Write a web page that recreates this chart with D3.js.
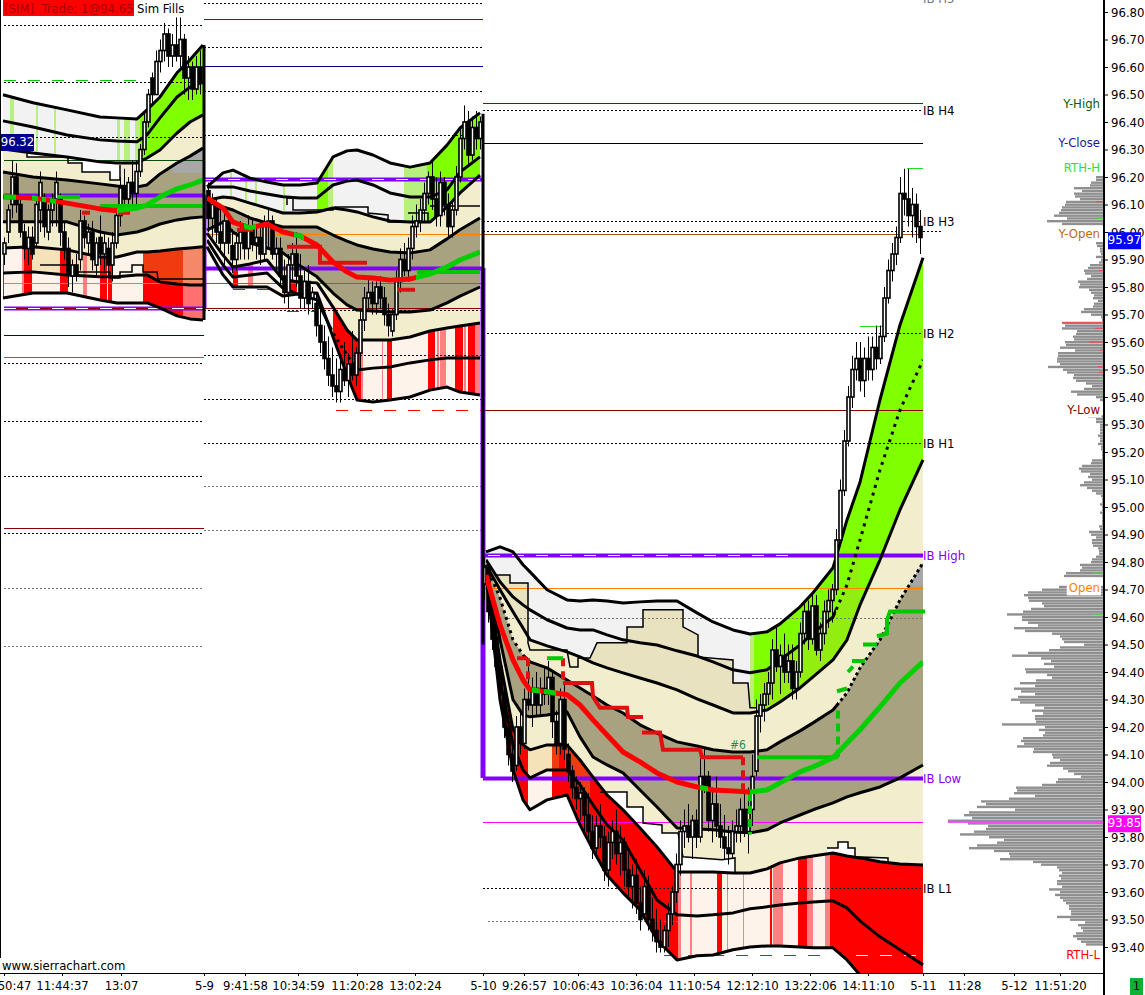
<!DOCTYPE html>
<html><head><meta charset="utf-8">
<script src="https://cdnjs.cloudflare.com/ajax/libs/d3/7.8.5/d3.min.js"></script>
<style>html,body{margin:0;padding:0;background:#fff;overflow:hidden}text{font-family:"DejaVu Sans Condensed","DejaVu Sans",sans-serif}</style>
</head><body><svg id="c" width="1145" height="995"></svg>
<script>
// ---------- axis labels ----------
const priceTicks=[96.8,96.7,96.6,96.5,96.4,96.3,96.2,96.1,96.0,95.9,95.8,95.7,95.6,95.5,95.4,95.3,95.2,95.1,95.0,94.9,94.8,94.7,94.6,94.5,94.4,94.3,94.2,94.1,94.0,93.9,93.8,93.7,93.6,93.5,93.4];
const timeBars=[1,15.5,30.25,51,61.25,74.5,89.25,103.75,120.75,131,144.5,159,173.5,188,202.5,217,230.75,241,253.5,265];
const timeLabels=["50:47","11:44:37","13:07","5-9","9:41:58","10:34:59","11:20:28","13:02:24","5-10","9:26:57","10:06:43","10:36:04","11:10:54","12:12:10","13:22:06","14:11:10","5-11","11:28","5-12","11:51:20"];
// ---------- session 1 bands ----------
const s1Bars=[0.75,8.25,16.75,25,29.25,34.25,36.75,40,44.25,47.5,50.75];
const s1C1=[96.499,96.47,96.444,96.418,96.415,96.411,96.444,96.491,96.579,96.626,96.68];
const s1C2=[96.404,96.382,96.353,96.335,96.331,96.328,96.353,96.415,96.491,96.527,96.546];
const s1C3=[96.302,96.287,96.273,96.255,96.251,96.251,96.269,96.298,96.36,96.4,96.426];
const s1C4=[96.218,96.2,96.189,96.175,96.167,96.164,96.171,96.211,96.251,96.276,96.305];
const s1Mid=[96.128,96.124,96.105,96.084,96.077,96.087,96.098,96.128,96.157,96.171,96.189];
const s1C5=[96.037,96.037,96.037,96.0,95.989,96.0,96.011,96.029,96.044,96.051,96.055];
const s1C6=[95.942,95.946,95.935,95.909,95.909,95.927,95.927,95.931,95.938,95.942,95.946];
const s1C7=[95.851,95.855,95.844,95.837,95.837,95.844,95.844,95.818,95.811,95.807,95.807];
const s1C8=[95.76,95.778,95.778,95.753,95.742,95.742,95.742,95.724,95.695,95.684,95.68];
// ---------- session 2 bands ----------
const s2Bars=[51.75,55.75,58.25,62.5,66.75,70.75,75,79.25,83.25,86.75,89.25,93.25,97.5,102.5,107.5,111.75,115,120];
const s2C1=[96.164,96.215,96.225,96.196,96.182,96.171,96.171,96.178,96.273,96.295,96.298,96.28,96.251,96.236,96.251,96.316,96.378,96.433];
const s2C2=[96.164,96.164,96.164,96.149,96.138,96.128,96.124,96.124,96.171,96.185,96.189,96.171,96.142,96.127,96.127,96.153,96.218,96.273];
const s2C3=[96.116,96.127,96.124,96.105,96.087,96.069,96.069,96.073,96.087,96.08,96.073,96.055,96.04,96.036,96.036,96.091,96.142,96.207];
const s2C4=[96.069,96.091,96.08,96.051,96.033,96.018,96.018,96.018,95.989,95.967,95.953,95.938,95.927,95.924,95.935,95.975,96.008,96.051];
const s2Mid=[96.124,96.087,96.036,96.015,96.029,96.0,95.986,95.953,95.891,95.855,95.836,95.833,95.825,95.829,95.847,95.873,95.898,95.927];
const s2C5=[96.007,96.036,96.0,95.96,95.942,95.924,95.877,95.837,95.778,95.735,95.716,95.713,95.709,95.709,95.716,95.742,95.767,95.8];
const s2C6=[95.996,95.916,95.873,95.884,95.898,95.826,95.818,95.815,95.727,95.644,95.607,95.607,95.607,95.618,95.64,95.651,95.658,95.669];
const s2C7=[95.971,95.88,95.836,95.844,95.851,95.796,95.771,95.753,95.633,95.553,95.498,95.505,95.509,95.524,95.535,95.542,95.542,95.542];
const s2C8=[95.946,95.844,95.8,95.8,95.8,95.767,95.775,95.778,95.618,95.48,95.389,95.382,95.389,95.4,95.425,95.436,95.418,95.407];
// ---------- session 3 bands ----------
const s3Bars=[121.5,125,128.25,130.75,132.5,136.75,141.75,145,148.25,151.75,155.75,160,164.25,169.25,174.25,178.25,183.25,187.5,191.75,195,200,203.25,208.25,211.75,215,220,225,230.75];
const s3C1=[94.837,94.855,94.837,94.79,94.764,94.699,94.662,94.658,94.662,94.658,94.651,94.655,94.658,94.658,94.615,94.582,94.553,94.538,94.546,94.575,94.637,94.688,94.779,94.953,95.09,95.39,95.662,95.906];
const s3C2=[94.808,94.728,94.673,94.644,94.626,94.59,94.56,94.553,94.553,94.535,94.517,94.506,94.498,94.477,94.458,94.437,94.408,94.397,94.408,94.444,94.498,94.542,94.6,94.717,94.88,95.135,95.353,95.535];
const s3C3=[94.79,94.699,94.619,94.56,94.517,94.495,94.473,94.455,94.433,94.415,94.397,94.378,94.36,94.335,94.302,94.28,94.251,94.251,94.262,94.291,94.342,94.382,94.444,94.517,94.644,94.808,94.99,95.171];
const s3C4=[94.79,94.67,94.517,94.462,94.437,94.415,94.371,94.342,94.313,94.28,94.251,94.208,94.178,94.146,94.131,94.117,94.109,94.109,94.117,94.146,94.186,94.215,94.262,94.324,94.415,94.517,94.662,94.797];
const s3Mid=[94.753,94.571,94.444,94.371,94.335,94.328,94.317,94.28,94.226,94.171,94.109,94.073,94.033,94.0,93.982,93.971,93.967,93.964,93.971,93.997,94.037,94.055,94.088,94.142,94.19,94.273,94.36,94.437];
const s3C5=[94.779,94.517,94.299,94.244,94.237,94.244,94.255,94.164,94.091,94.062,94.033,93.971,93.909,93.833,93.829,93.826,93.818,93.815,93.826,93.851,93.88,93.899,93.924,93.946,93.961,93.982,94.015,94.062];
const s3C6=[94.771,94.444,94.19,94.135,94.117,94.135,94.135,94.08,94.018,93.953,93.899,93.833,93.764,93.673,93.673,93.673,93.669,93.669,93.684,93.706,93.724,93.731,93.742,93.731,93.724,93.71,93.702,93.698];
const s3C7=[94.764,94.371,94.135,94.044,94.015,94.044,94.044,93.99,93.917,93.844,93.789,93.68,93.571,93.517,93.513,93.517,93.524,93.539,93.546,93.553,93.56,93.564,93.568,93.542,93.495,93.437,93.39,93.335];
const s3C8=[94.753,94.299,94.044,93.935,93.899,93.935,93.953,93.844,93.753,93.662,93.597,93.535,93.426,93.353,93.368,93.371,93.39,93.4,93.404,93.404,93.4,93.397,93.397,93.353,93.298,93.244,93.19,93.135];
// ---------- stepped value-area outlines [bar, price] ----------
const s1StepWhite=[[6.75,96.298],[6.75,96.273],[17,96.273],[17,96.251],[20.5,96.251],[20.5,96.218],[27.5,96.218],[27.5,96.189],[30,96.189],[30,96.244]];
const s1StepLow=[[10,95.88],[17,95.88],[17,95.855],[27.5,95.855],[27.5,95.833],[30,95.833],[30,95.855],[33,95.855],[33,95.88],[35.75,95.88],[35.75,95.855],[39.25,95.855],[39.5,95.829],[50.75,95.829]];
const s2StepA=[[71.75,96.098],[71.75,96.124],[73.25,96.124],[73.25,96.08],[83.25,96.08],[83.75,96.091],[92,96.091],[92,96.069],[97,96.062],[97,96.036],[101.25,96.036]];
const s2StepB=[[102,96.069],[107,96.069],[107,96.036]];
const s2StepC=[[107.5,96.095],[120,96.095]];
const s3StepUp=[[123.75,94.753],[127.5,94.753],[127.5,94.724],[132,94.724],[132,94.506],[132.5,94.48],[141.75,94.48],[142.5,94.418],[144.5,94.418],[144.5,94.451],[147.5,94.451],[149.25,94.506],[156.75,94.506],[156.75,94.564],[160.75,94.564],[160.75,94.626],[170.75,94.626],[170.75,94.564],[174.5,94.535],[174.5,94.455],[183.25,94.444],[183.25,94.36],[187,94.36],[187.5,94.27],[189.25,94.27]];
const s3StepLow=[[150,93.964],[156.75,93.964],[156.75,93.909],[160.75,93.909],[160.75,93.851],[165.5,93.844],[165.5,93.815],[169.5,93.815],[170.75,93.728],[180.5,93.717],[183.75,93.724],[183.75,93.673]];
const s3StepRight=[[206.75,93.76],[209.5,93.76],[209.5,93.782],[212,93.782],[212,93.76],[213.75,93.76],[213.75,93.728],[222,93.724],[222,93.709]];
// ---------- overnight / IB levels [price, fromBar, toBar] ----------
const dottedBlack=[[96.753,1,51],[96.546,1,51],[96.346,1,51],[95.524,1,51],[95.313,1,51],[95.113,1,51],[94.906,1,51],[96.833,51,120.75],[96.673,51,120.75],[96.513,51,120.75],[96.353,51,120.75],[95.717,51,120.75],[95.553,51,120.75],[95.393,51,120.75],[95.233,51,120.75],[96.444,120.75,230.75],[96.04,120.75,230.75],[95.633,120.75,230.75],[95.233,120.75,230.75],[93.615,120.75,230.75],[96.004,120.75,235.5]];
const dottedGrey=[[94.706,1,51],[94.495,1,51],[95.077,51,120.75],[94.917,51,120.75],[94.597,122,230.75],[93.495,122,170]];
const darkGreenLevels=[[96.262,1,51],[96.775,51,120.75],[96.469,120.75,230.75]];
const navyLevels=[[95.626,1,51],[96.604,51,120.75]];
const blackLevels=[[96.324,120.75,230.75]];
const brownLevels=[[95.546,1,51],[95.815,51,120.75],[95.993,120.75,230.75]];
const darkRedLevels=[[94.924,1,51],[95.724,51,120.75],[95.353,120.75,230.75],[95.724,1,51]];
const orangeLevels=[[95.815,1,51],[95.993,51,120.75],[94.706,120.75,230.75]];
const purpleLevels=[[96.135,1,51],[95.724,1,51],[96.193,51,120.75],[95.869,51,120.75],[94.826,120.75,230.75],[94.015,120.75,230.75]];
const whiteDashed=[[95.724,1,51],[96.193,51,120.75],[94.826,122,200],[93.371,208,230.75]];
const magentaLevels=[[93.855,120.75,230.75]];
const redDashed=[[95.793,58.25,69.25],[95.713,71.75,79.25],[95.353,84,120.75],[93.371,166,208]];
const limeLevels=[[96.233,226.75,230.75],[95.66,215,221]];
const limeDashed=[[96.553,1,36]];
// ---------- POC migration [bar, price] ----------
const redSteps=[[[20.5,96.07],[22.5,96.07]],[[29.5,96.07],[32.5,96.07]],[[59.25,96.008],[63.25,96.008]],[[71.75,95.946],[80,95.946],[80,95.888],[91.75,95.888]],[[99.25,95.79],[103.75,95.79]],[[129.25,94.45],[131.75,94.45]],[[140.75,94.36],[148,94.36],[148.25,94.31],[150,94.27],[156.75,94.27],[157,94.236],[160.75,94.236]],[[160.5,94.18],[165,94.18],[165.75,94.117],[175,94.117],[175.5,94.09],[185.75,94.09]]];
const redDash=[[[132,94.45],[132,94.36]],[[140.75,94.45],[140.75,94.36]],[[185.75,94.09],[185.75,93.97]]];
const greenSteps=[[[14.25,96.128],[20,96.128]],[[25,96.095],[50.75,96.095]],[[104.25,95.855],[120,95.855]],[[136.75,94.45],[140.75,94.45]],[[189.25,94.09],[209.5,94.09]],[[209.25,94.33],[211.75,94.34]],[[212,94.40],[213.25,94.42]],[[213,94.44],[216.25,94.44]],[[215.75,94.50],[219.25,94.50]],[[219.25,94.53],[221.75,94.54],[221.75,94.59],[222.5,94.62],[231.25,94.62]]];
const greenDash=[[[209.5,94.26],[209.5,94.09]],[[187.5,93.96],[187.5,93.81]]];
// ---------- shading [fromBar, toBar] ----------
const s1PaleGreen=[[2.5,3.5],[9,9.5],[13.5,14],[29.25,30],[31,32.5],[33.75,35]];
const s2PaleGreen=[[57.5,58],[61.25,61.75],[63.75,64.25],[70.75,71.25],[82,83.25],[101,106.75]];
const s2BrightGreen=[[79.25,82],[106.75,120]];
const s1RedStripes=[[0.75,1],[6,8],[15,17],[25,26.75],[27,28]];
const s1PinkStripes=[[5.5,6],[20.75,21.75],[45.75,46.75],[47.5,48.5]];
const s2RedStripes=[[58.25,59.5],[71.75,74.25],[75.75,77.5],[96.75,98],[107,108.75],[113.75,115.75],[117,118.75]];
const s2PinkStripes=[[62,63.25],[90.25,90.75],[95.5,95.75],[109.25,109.75],[110,111.5],[116,116.5],[118.75,120]];
const s3RedStripes=[[129,131.25],[179.25,180.5],[192.5,193],[199.5,201.75]];
const s3PinkStripes=[[169.5,170.25],[172.5,173],[181.75,182],[185.75,186],[193.25,195.75],[201.75,203.25],[206.25,207.5]];
// ---------- candles [high, low, open, close] ----------
const s1Start=1;
const s1Candles=[[95.98,95.88,95.92,95.96],[96.10,95.96,96.00,96.08],[96.26,96.05,96.10,96.20],[96.25,96.07,96.20,96.10],[96.12,95.98,96.10,96.00],[96.03,95.90,96.00,95.94],[96.02,95.88,95.94,95.98],[96.02,95.90,95.98,95.92],[96.12,95.94,95.96,96.10],[96.22,96.00,96.08,96.18],[96.14,95.98,96.12,96.02],[96.10,95.97,96.00,96.08],[96.14,96.02,96.08,96.12],[96.22,96.02,96.12,96.18],[96.14,95.95,96.12,96.00],[96.04,95.90,96.00,95.94],[95.98,95.80,95.94,95.85],[95.90,95.78,95.84,95.88],[95.92,95.82,95.88,95.85],[96.08,95.86,95.90,96.04],[96.06,95.94,96.04,95.98],[96.03,95.92,95.96,96.00],[96.04,95.86,96.00,95.90],[95.98,95.84,95.88,95.96],[96.06,95.88,95.98,95.92],[96.00,95.86,95.92,95.96],[95.98,95.84,95.94,95.88],[96.00,95.82,95.88,95.96],[96.10,95.94,95.96,96.06],[96.20,96.02,96.06,96.16],[96.23,96.08,96.16,96.12],[96.20,96.08,96.12,96.18],[96.26,96.10,96.18,96.14],[96.26,96.10,96.14,96.22],[96.32,96.20,96.22,96.30],[96.44,96.28,96.30,96.40],[96.52,96.38,96.40,96.50],[96.58,96.46,96.56,96.50],[96.66,96.50,96.50,96.62],[96.70,96.58,96.62,96.66],[96.76,96.62,96.66,96.72],[96.74,96.60,96.72,96.64],[96.72,96.60,96.64,96.68],[96.78,96.62,96.68,96.64],[96.78,96.60,96.64,96.70],[96.72,96.50,96.70,96.56],[96.64,96.48,96.56,96.60],[96.62,96.48,96.60,96.52],[96.64,96.50,96.52,96.60],[96.66,96.50,96.60,96.54]];
const s2Start=52;
const s2Candles=[[96.18,96.00,96.15,96.05],[96.14,95.98,96.05,96.10],[96.12,95.96,96.10,96.00],[96.10,95.92,96.00,95.96],[96.08,95.88,95.96,96.04],[96.05,95.92,96.04,95.96],[96.01,95.85,95.95,95.90],[96.0,95.86,95.90,95.96],[96.04,95.90,95.96,96.0],[96.02,95.90,96.0,95.94],[96.06,95.90,95.94,96.02],[96.05,95.93,96.02,95.96],[96.02,95.90,95.96,95.98],[96.04,95.88,95.98,95.92],[96.06,95.90,95.92,96.02],[96.08,95.94,96.02,96.04],[96.06,95.90,96.04,95.92],[95.98,95.86,95.92,95.94],[95.98,95.80,95.94,95.84],[95.90,95.74,95.84,95.78],[95.92,95.72,95.78,95.88],[95.96,95.82,95.88,95.92],[96.0,95.80,95.92,95.84],[95.92,95.72,95.84,95.76],[95.86,95.72,95.76,95.82],[95.88,95.70,95.82,95.74],[95.80,95.72,95.76,95.78],[95.78,95.62,95.74,95.66],[95.72,95.56,95.66,95.60],[95.66,95.50,95.60,95.54],[95.62,95.44,95.54,95.48],[95.58,95.40,95.48,95.44],[95.54,95.38,95.44,95.42],[95.54,95.38,95.42,95.50],[95.60,95.44,95.50,95.46],[95.56,95.40,95.46,95.52],[95.64,95.46,95.52,95.48],[95.58,95.44,95.48,95.56],[95.72,95.50,95.56,95.68],[95.80,95.64,95.68,95.76],[95.84,95.72,95.76,95.78],[95.82,95.70,95.78,95.74],[95.82,95.70,95.74,95.80],[95.84,95.72,95.80,95.76],[95.80,95.66,95.76,95.70],[95.74,95.62,95.70,95.66],[95.72,95.62,95.64,95.70],[95.86,95.68,95.70,95.82],[95.94,95.78,95.82,95.90],[95.96,95.84,95.90,95.86],[95.98,95.82,95.86,95.94],[96.06,95.90,95.94,96.02],[96.10,95.98,96.02,96.04],[96.12,96.0,96.04,96.08],[96.18,96.04,96.08,96.14],[96.22,96.10,96.14,96.20],[96.26,96.08,96.20,96.12],[96.20,96.02,96.12,96.06],[96.22,96.02,96.06,96.18],[96.20,96.06,96.18,96.10],[96.14,95.98,96.10,96.02],[96.12,95.98,96.02,96.08],[96.24,96.06,96.08,96.20],[96.38,96.18,96.20,96.34],[96.46,96.30,96.34,96.40],[96.44,96.24,96.40,96.28],[96.42,96.26,96.28,96.38],[96.44,96.30,96.38,96.34],[96.42,96.30,96.34,96.40]];
const s3Start=121;
const s3Candles=[[94.82,94.66,94.72,94.78],[94.80,94.58,94.78,94.62],[94.66,94.48,94.62,94.52],[94.56,94.38,94.52,94.42],[94.46,94.28,94.42,94.32],[94.36,94.16,94.32,94.20],[94.24,94.06,94.20,94.10],[94.14,94.00,94.10,94.04],[94.24,94.04,94.06,94.20],[94.26,94.10,94.20,94.14],[94.34,94.12,94.14,94.30],[94.42,94.26,94.30,94.28],[94.38,94.20,94.28,94.34],[94.40,94.24,94.34,94.28],[94.38,94.24,94.28,94.34],[94.42,94.28,94.34,94.32],[94.44,94.28,94.32,94.38],[94.40,94.16,94.38,94.22],[94.26,94.10,94.22,94.14],[94.34,94.10,94.14,94.30],[94.36,94.08,94.30,94.12],[94.14,94.00,94.10,94.04],[94.06,93.94,94.04,93.98],[94.02,93.90,93.98,93.94],[94.00,93.86,93.94,93.96],[93.98,93.82,93.96,93.88],[93.96,93.78,93.88,93.82],[93.88,93.72,93.82,93.76],[93.88,93.72,93.76,93.84],[93.92,93.76,93.84,93.80],[93.84,93.64,93.80,93.68],[93.82,93.62,93.68,93.78],[93.86,93.72,93.78,93.82],[93.90,93.70,93.82,93.74],[93.84,93.66,93.74,93.78],[93.80,93.62,93.78,93.68],[93.74,93.58,93.68,93.62],[93.70,93.54,93.62,93.66],[93.72,93.52,93.66,93.56],[93.62,93.46,93.56,93.50],[93.68,93.50,93.52,93.62],[93.66,93.46,93.62,93.50],[93.58,93.42,93.50,93.46],[93.54,93.38,93.46,93.42],[93.50,93.38,93.42,93.40],[93.48,93.38,93.40,93.46],[93.56,93.40,93.46,93.52],[93.62,93.48,93.52,93.60],[93.74,93.56,93.60,93.70],[93.86,93.66,93.70,93.82],[93.90,93.76,93.82,93.84],[93.92,93.78,93.84,93.80],[93.88,93.72,93.80,93.86],[93.90,93.76,93.86,93.80],[94.10,93.78,93.80,94.02],[94.12,93.96,94.02,93.98],[94.04,93.82,94.02,93.86],[93.98,93.78,93.86,93.92],[94.02,93.80,93.92,93.84],[93.92,93.76,93.84,93.80],[93.88,93.72,93.80,93.76],[93.84,93.70,93.76,93.74],[93.86,93.72,93.74,93.82],[93.90,93.78,93.82,93.84],[93.94,93.78,93.84,93.90],[93.96,93.80,93.90,93.82],[93.98,93.74,93.82,93.90],[94.10,93.84,93.90,94.02],[94.30,94.02,94.04,94.24],[94.32,94.18,94.24,94.28],[94.36,94.22,94.28,94.32],[94.40,94.28,94.32,94.36],[94.52,94.30,94.36,94.48],[94.56,94.40,94.48,94.42],[94.50,94.32,94.42,94.46],[94.54,94.36,94.46,94.40],[94.50,94.36,94.40,94.44],[94.50,94.30,94.44,94.34],[94.44,94.30,94.34,94.40],[94.58,94.38,94.40,94.54],[94.66,94.50,94.54,94.62],[94.66,94.48,94.62,94.52],[94.68,94.50,94.52,94.64],[94.68,94.46,94.64,94.48],[94.58,94.44,94.48,94.54],[94.66,94.50,94.54,94.62],[94.70,94.56,94.62,94.66],[94.72,94.58,94.66,94.70],[94.92,94.68,94.70,94.88],[95.10,94.86,94.88,95.06],[95.28,95.04,95.06,95.24],[95.44,95.22,95.24,95.40],[95.55,95.36,95.40,95.50],[95.60,95.46,95.50,95.54],[95.60,95.42,95.54,95.46],[95.58,95.40,95.46,95.54],[95.62,95.46,95.54,95.50],[95.62,95.46,95.50,95.58],[95.66,95.50,95.58,95.54],[95.66,95.52,95.54,95.62],[95.80,95.60,95.62,95.76],[95.90,95.74,95.76,95.86],[95.96,95.82,95.86,95.92],[96.02,95.88,95.92,95.98],[96.20,95.96,95.98,96.14],[96.23,96.06,96.14,96.12],[96.23,96.02,96.12,96.06],[96.16,95.98,96.06,96.10],[96.14,95.96,96.10,96.02],[96.08,95.92,96.02,95.98]];
// ---------- volume profile (one value per 0.01, from 96.20 downward) ----------
const profileTop=96.20;
const profileVolumes=[7,7,12,13,29,21,29,28,23,37,38,41,42,44,49,36,56,41,0,0,0,0,0,0,7,6,3,3,2,7,2,4,13,15,19,18,12,16,25,23,24,14,12,9,10,5,9,10,19,22,12,2,1,41,38,41,26,27,30,29,38,37,43,28,45,45,46,46,43,55,40,36,29,30,27,17,11,19,32,26,7,3,0,0,0,0,0,15,7,7,3,3,3,3,5,3,3,5,2,2,1,1,1,11,12,21,24,22,13,15,11,19,23,16,11,7,2,1,1,3,1,1,3,1,1,1,1,4,3,14,12,7,11,11,10,5,4,4,7,11,12,23,21,23,37,39,0,0,0,44,61,75,79,75,74,61,59,72,80,96,81,81,75,65,89,78,51,43,41,39,19,43,54,75,91,62,52,59,49,78,77,56,51,67,83,68,89,82,68,85,92,83,68,59,71,60,68,68,67,101,58,64,58,60,80,82,79,86,69,70,51,50,43,53,56,40,35,29,22,45,47,61,87,86,89,68,94,122,117,126,88,134,139,131,155,135,115,117,129,143,114,99,106,126,134,109,94,93,103,70,62,46,44,41,44,42,46,46,41,54,43,48,43,40,37,34,34,32,32,46,33,18,25,22,20,27,30,26,22,17];
const profileRed=[[9,7],[34,4],[53,41],[55,8],[60,14],[63,3],[69,5],[71,4]];
const profileGreen=[[15,6],[73,4],[79,3],[144,10],[159,10]];
// ---------- text ----------
const ibLabels=[["IB H4",96.444],["IB H3",96.04],["IB H2",95.633],["IB H1",95.233],["IB L1",93.615]];
const ibTop=[["IB H5",96.85]];
const ibPurple=[["IB High",94.826],["IB Low",94.015]];
const rightLabels=[["Y-High",96.469],["Y-Close",96.324],["RTH-H",96.233],["Y-Open",95.993],["Y-Low",95.353],["Open",94.706],["RTH-L",93.371]];
const rightColors=["#0a5a0a","#1a1a9a","#33dd33","#b86b10","#8b0000","#ff8000","#ff0000"];

const W=1145,H=995,plotR=1104,plotB=973;
const x=d3.scaleLinear().domain([0,276]).range([0,plotR]);
const y=d3.scaleLinear().domain([93.40,96.80]).range([947,12]);
const vol=d3.scaleLinear().domain([0,160]).range([plotR-1,plotR-161]);
const svg=d3.select('#c');
const defs=svg.append('defs');
let cid=0;
function clip(b0,b1,pHi,pLo){
  const id='k'+(cid++);
  const t=pHi===undefined?-20:y(pHi), b=pLo===undefined?plotB:y(pLo);
  defs.append('clipPath').attr('id',id).append('rect').attr('x',x(b0)).attr('width',x(b1)-x(b0)).attr('y',t).attr('height',Math.max(0,b-t));
  return 'url(#'+id+')';
}
defs.append('clipPath').attr('id','plot').append('rect').attr('x',0).attr('y',0).attr('width',plotR).attr('height',plotB);
const g=svg.append('g').attr('clip-path','url(#plot)');
const lineF=d3.line().x(d=>x(d[0])).y(d=>y(d[1]));
const pts=(bars,v)=>bars.map((b,i)=>[b,v[i]]);
function band(bars,A,B,b0,b1,col,pHi,pLo){
  const P=pts(bars,A), Q=pts(bars,B).reverse();
  g.append('path').attr('d',lineF(P)+'L'+lineF(Q).slice(1)+'Z').attr('fill',col).attr('clip-path',clip(b0,b1,pHi,pLo));
}
function curve(bars,v,w,dash,b0,b1){
  const p=g.append('path').attr('d',lineF(pts(bars,v))).attr('fill','none').attr('stroke','#000').attr('stroke-width',w).attr('stroke-linejoin','round');
  if(dash)p.attr('stroke-dasharray',dash);
  if(b0!==undefined)p.attr('clip-path',clip(b0,b1));
}
function stepFill(step,bars,v,col,b0,b1){
  const rev=pts(bars,v).reverse();
  g.append('path').attr('d',lineF(step)+'L'+lineF(rev).slice(1)+'Z').attr('fill',col).attr('clip-path',clip(b0,b1));
}
function stepLine(step,col,w,dash){
  const p=g.append('path').attr('d',lineF(step)).attr('fill','none').attr('stroke',col||'#000').attr('stroke-width',w||1.5);
  if(dash)p.attr('stroke-dasharray',dash);
}
const GREY='#f2f2f2',BEIGE='#f2edcd',BEIGE2='#e8e2c0',KHAKI='#a8a280',LIME='#80ff00',LIME2='#92ee10',PALE='#b8f080',CREAM='#fdf3ea',RED='#ff0000',PINK='#ff8080',ORANGE='#f03a10',GR='#a8a8a8';

// session 1 fills
band(s1Bars,s1C1,s1C3,0.75,35,GREY);
s1PaleGreen.forEach(s=>band(s1Bars,s1C1,s1C3,s[0],s[1],PALE));
band(s1Bars,s1C1,s1C3,35,50.75,LIME);
band(s1Bars,s1C3,s1C4,0.75,50.75,BEIGE);
band(s1Bars,s1C4,s1C5,0.75,50.75,KHAKI);
band(s1Bars,s1C4,s1C5,43,50.75,GR,undefined,96.215);
band(s1Bars,s1C5,s1C6,0.75,50.75,BEIGE);
band(s1Bars,s1C6,s1C8,0.75,35.75,CREAM);
band(s1Bars,s1C6,s1C7,6,28,'#f5e2b8');
s1RedStripes.forEach(s=>band(s1Bars,s1C6,s1C8,s[0],s[1],RED));
s1PinkStripes.forEach(s=>band(s1Bars,s1C6,s1C8,s[0],s[1],PINK));
band(s1Bars,s1C6,s1C7,35.75,50.75,ORANGE);
band(s1Bars,s1C7,s1C8,35.75,45.75,RED);
band(s1Bars,s1C6,s1C8,45.75,50.75,'#f58868');
band(s1Bars,s1C7,s1C8,45.75,50.75,'#ff7070');
stepFill(s1StepWhite,s1Bars,s1C3,'#fff',6.75,30);
// session 2 fills
band(s2Bars,s2C1,s2C3,51.75,120,GREY);
s2PaleGreen.forEach(s=>band(s2Bars,s2C1,s2C3,s[0],s[1],PALE));
s2BrightGreen.forEach(s=>band(s2Bars,s2C1,s2C3,s[0],s[1],LIME));
band(s2Bars,s2C3,s2C4,51.75,120,BEIGE);
band(s2Bars,s2C4,s2C5,51.75,120,KHAKI);
band(s2Bars,s2C5,s2C6,51.75,120,BEIGE);
band(s2Bars,s2C6,s2C8,51.75,120,CREAM);
band(s2Bars,s2C6,s2C8,83.25,90.5,RED);
s2RedStripes.forEach(s=>band(s2Bars,s2C6,s2C8,s[0],s[1],RED));
s2PinkStripes.forEach(s=>band(s2Bars,s2C6,s2C8,s[0],s[1],PINK));
// session 3 fills
band(s3Bars,s3C1,s3C3,121.5,187.5,GREY);
band(s3Bars,s3C1,s3C3,187.5,188.5,PALE);
band(s3Bars,s3C1,s3C3,188.5,230.75,LIME);
band(s3Bars,s3C2,s3C3,190,215,LIME2);
stepFill(s3StepUp,s3Bars,s3C3,BEIGE2,123.75,189.25);
band(s3Bars,s3C3,s3C4,121.5,230.75,BEIGE);
band(s3Bars,s3C4,s3C5,121.5,230.75,KHAKI);
band(s3Bars,s3C4,s3C5,222,230.75,GR,undefined,94.715);
band(s3Bars,s3C5,s3C6,121.5,230.75,BEIGE);
stepFill(s3StepLow,s3Bars,s3C6,'#fff',150,183.75);
stepFill(s3StepRight,s3Bars,s3C6,'#fff',206.75,222);
band(s3Bars,s3C6,s3C8,121.5,169.5,RED);
band(s3Bars,s3C6,s3C8,132,138,CREAM);
band(s3Bars,s3C6,s3C7,132,138,'#f5e2b8');
band(s3Bars,s3C6,s3C7,138,139.75,ORANGE);
band(s3Bars,s3C6,s3C7,141.25,147.5,ORANGE);
band(s3Bars,s3C6,s3C8,169.5,207.5,CREAM);
s3RedStripes.forEach(s=>band(s3Bars,s3C6,s3C8,s[0],s[1],RED));
s3PinkStripes.forEach(s=>band(s3Bars,s3C6,s3C8,s[0],s[1],PINK));
band(s3Bars,s3C6,s3C8,207.5,230.75,RED);

// levels
function levels(data,col,w,dash){
  g.selectAll(null).data(data).join('line')
   .attr('x1',d=>x(d[1])).attr('x2',d=>x(d[2])).attr('y1',d=>Math.round(y(d[0]))+.5).attr('y2',d=>Math.round(y(d[0]))+.5)
   .attr('stroke',col).attr('stroke-width',w).attr('stroke-dasharray',dash||null);
}
levels(dottedGrey,'#777',1,'2 2');
levels(dottedBlack,'#000',1,'2 2');
levels(darkGreenLevels,'#0a4a0a',1);
levels(navyLevels,'#000090',1);
levels(blackLevels,'#000',1);
levels(brownLevels,'#a55a10',1);
levels(orangeLevels,'#ff8000',1);
levels(purpleLevels,'#8000ff',4);
levels(darkRedLevels,'#8b0000',1);
levels(whiteDashed,'#fff',1,'12 12');
levels(magentaLevels,'#ff00ff',1);
levels(redDashed,'#ff0000',1,'12 12');
levels(limeLevels,'#20e020',1);
levels(limeDashed,'#00cc00',1,'12 12');
// vertical separators
g.append('line').attr('x1',x(120.75)).attr('x2',x(120.75)).attr('y1',y(95.869)).attr('y2',y(94.015)).attr('stroke','#8000ff').attr('stroke-width',5);
g.append('line').attr('x1',x(51.25)).attr('x2',x(51.25)).attr('y1',y(96.135)).attr('y2',y(95.724)).attr('stroke','#8000ff').attr('stroke-width',3);

// candles
function candles(data,start){
  const cg=g.append('g');
  data.forEach((d,i)=>{
    const b=start+i,cx=Math.round(x(b))+.5;
    cg.append('line').attr('x1',cx).attr('x2',cx).attr('y1',y(d[0])).attr('y2',y(d[1])).attr('stroke','#000');
    const top=y(Math.max(d[2],d[3])),bot=y(Math.min(d[2],d[3]));
    cg.append('rect').attr('x',cx-1.5).attr('width',3).attr('y',top).attr('height',Math.max(1,bot-top))
      .attr('fill',d[3]>=d[2]?'#fff':'#000').attr('stroke','#000').attr('stroke-width',1.6);
  });
}
// curves
function allCurves(bars,list){list.forEach(v=>curve(bars,v,3));}
allCurves(s1Bars,[s1C1,s1C2,s1C3,s1C4,s1C5,s1C6,s1C7,s1C8]);
allCurves(s2Bars,[s2C1,s2C2,s2C3,s2C4,s2C5,s2C6,s2C8]);
curve(s2Bars,s2C7,3,null,51.75,83);
curve(s2Bars,s2C7,3,'3 4',83,89);
curve(s2Bars,s2C7,3,null,89,120);
allCurves(s3Bars,[s3C1,s3C3,s3C5,s3C6,s3C7,s3C8]);
curve(s3Bars,s3C2,3,null,121.5,209);
curve(s3Bars,s3C2,3,'3 5',209,230.75);
curve(s3Bars,s3C4,3,'3 4',121.5,131);
curve(s3Bars,s3C4,3,null,131,209.5);
curve(s3Bars,s3C4,3,'3 3',209.5,230.75);
stepLine(s1StepWhite);stepLine(s1StepLow);stepLine(s2StepA);stepLine(s2StepB);stepLine(s2StepC);
stepLine(s3StepUp);stepLine(s3StepLow);stepLine(s3StepRight);
candles(s1Candles,s1Start);candles(s2Candles,s2Start);candles(s3Candles,s3Start);
// POC
redSteps.forEach(s=>stepLine(s,'#e01010',4));
redDash.forEach(s=>stepLine(s,'#e01010',4,'8 5'));
greenSteps.forEach(s=>stepLine(s,'#00c800',4));
greenDash.forEach(s=>stepLine(s,'#00c800',4,'8 5'));
function mid(bars,v,b0,b1,col,w){
  g.append('path').attr('d',lineF(pts(bars,v))).attr('fill','none').attr('stroke',col).attr('stroke-width',w||5).attr('stroke-linejoin','round').attr('clip-path',clip(b0,b1));
}
mid(s1Bars,s1Mid,0.75,29.25,'#ff0000');mid(s1Bars,s1Mid,29.25,50.75,'#00d000');
[[1,4],[8,9.5],[10.5,11.5],[12.5,14]].forEach(s=>mid(s1Bars,s1Mid,s[0],s[1],'#00d000'));
mid(s2Bars,s2Mid,51.75,104,'#ff0000');mid(s2Bars,s2Mid,104,120,'#00d000');
[[61,64],[73.5,76]].forEach(s=>mid(s2Bars,s2Mid,s[0],s[1],'#00d000'));
mid(s3Bars,s3Mid,121.5,187.5,'#ff0000');mid(s3Bars,s3Mid,187.5,230.75,'#00d000');
[[133,135],[136,139],[175,177]].forEach(s=>mid(s3Bars,s3Mid,s[0],s[1],'#00d000'));
// thick black separators
g.append('line').attr('x1',x(51)).attr('x2',x(51)).attr('y1',y(96.68)).attr('y2',y(95.68)).attr('stroke','#000').attr('stroke-width',3);
g.append('line').attr('x1',x(120.75)).attr('x2',x(120.75)).attr('y1',y(96.43)).attr('y2',y(94.5)).attr('stroke','#000').attr('stroke-width',3);
g.append('line').attr('x1',x(0)).attr('x2',x(0)).attr('y1',0).attr('y2',958).attr('stroke','#000').attr('stroke-width',2);

// volume profile
const rowH=2;
const pg=svg.append('g');
pg.selectAll('rect').data(profileVolumes).join('rect')
  .attr('x',d=>vol(d)).attr('width',d=>vol(0)-vol(d)).attr('y',(d,i)=>y(profileTop-i*0.01)-1).attr('height',rowH+.4).attr('fill','#8f8f8f');
pg.selectAll(null).data(profileRed).join('rect').attr('x',d=>vol(d[1])).attr('width',d=>vol(0)-vol(d[1])).attr('y',d=>y(profileTop-d[0]*0.01)-.5).attr('height',1).attr('fill','#ff4040');
pg.selectAll(null).data(profileGreen).join('rect').attr('x',d=>vol(d[1])).attr('width',d=>vol(0)-vol(d[1])).attr('y',d=>y(profileTop-d[0]*0.01)-.5).attr('height',1).attr('fill','#40e040');
pg.append('rect').attr('x',vol(155)).attr('width',vol(0)-vol(155)).attr('y',y(93.855)-1).attr('height',2).attr('fill','#ff40ff');

// axes
const ax=svg.append('g').attr('transform',`translate(${plotR},0)`)
 .call(d3.axisRight(y).tickValues(priceTicks).tickSize(4).tickPadding(3).tickFormat(d3.format('.2f')));
ax.select('.domain').remove();
ax.selectAll('text').attr('font-size',13).attr('fill','#000');
ax.selectAll('line').attr('stroke','#000');
svg.append('line').attr('x1',plotR).attr('x2',plotR).attr('y1',0).attr('y2',H).attr('stroke','#000').attr('stroke-width',2);
const bx=svg.append('g').attr('transform',`translate(0,${plotB})`)
 .call(d3.axisBottom(x).tickValues(timeBars).tickSize(3).tickPadding(5).tickFormat((d,i)=>timeLabels[i]));
bx.select('.domain').remove();
bx.selectAll('text').attr('font-size',13).attr('fill','#000');
bx.selectAll('text').filter((d,i)=>i==0).attr('dx',10);
bx.selectAll('line').attr('stroke','#000');
svg.append('line').attr('x1',0).attr('x2',plotR).attr('y1',plotB+.5).attr('y2',plotB+.5).attr('stroke','#000');

// labels
const bgLayer=svg.append('g');
const txLayer=svg.append('g');
function lab(t,px,py,col,anchor,size){return txLayer.append('text').text(t).attr('x',px).attr('y',py).attr('fill',col).attr('text-anchor',anchor||'start').attr('dominant-baseline','middle').attr('font-size',size||13);}
ibLabels.forEach(d=>lab(d[0],x(230.75),y(d[1])+1.5,'#000'));
ibTop.forEach(d=>lab(d[0],x(230.75),y(d[1])+1.5,'#777'));
ibPurple.forEach(d=>lab(d[0],x(230.75),y(d[1])+1.5,'#8000ff'));
rightLabels.forEach((d,i)=>{
  const t=lab(d[0],plotR-4,y(d[1])+1,rightColors[i],'end');
  const bb=t.node().getBBox();
  bgLayer.append('rect').attr('x',bb.x-2).attr('y',bb.y).attr('width',bb.width+3).attr('height',bb.height).attr('fill','#fff');
});
function box(t,px,pw,py,ph,bg,fg){
  svg.append('rect').attr('x',px).attr('y',py).attr('width',pw).attr('height',ph).attr('fill',bg);
  svg.append('text').text(t).attr('x',px+pw/2).attr('y',py+ph/2).attr('fill',fg).attr('text-anchor','middle').attr('dominant-baseline','middle').attr('font-size',13);
}
box('95.97',plotR+4,33,y(95.97)-8,17,'#0000ff','#fff');
box('93.85',plotR+4,33,y(93.85)-8,17,'#ff00ff','#fff');
box('96.32',1,33,134,17,'#00008b','#fff');
box('1',1130,13,978,17,'#10b030','#000');
bgLayer.append('rect').attr('x',0).attr('y',958).attr('width',122).attr('height',15).attr('fill','#fff');
const banner=svg.append('g');
banner.append('rect').attr('x',3).attr('y',0).attr('width',131).attr('height',16).attr('fill','#ff0000');
banner.append('text').text('[SIM]  Trade: 1@94.65').attr('x',4).attr('y',9).attr('fill','#a80000').attr('dominant-baseline','middle').attr('font-size',13).style('white-space','pre');
lab('Sim Fills',137,9,'#000');
lab('www.sierrachart.com',2,966,'#000');
lab('#6',730,745,'#2a8a5a','start',12);
</script></body></html>
